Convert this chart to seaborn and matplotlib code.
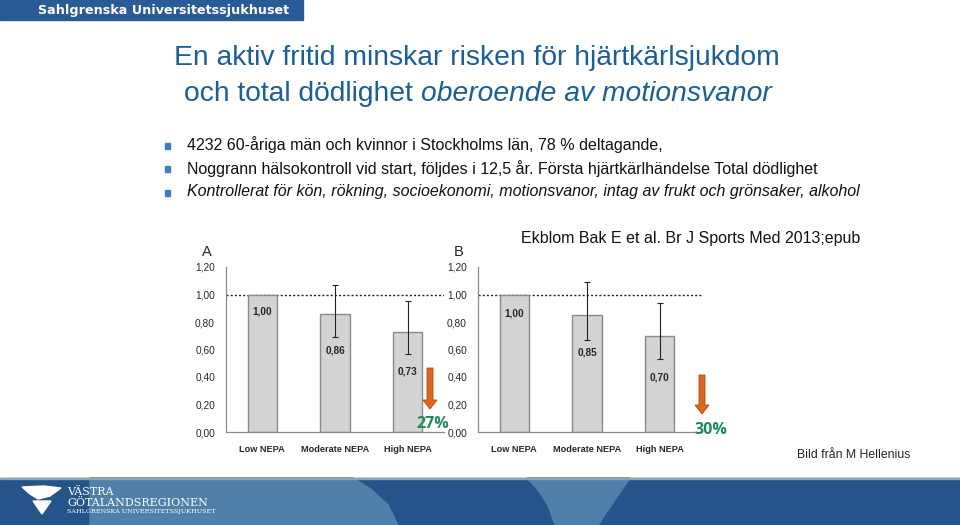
import numpy as np
import pandas as pd
import matplotlib
matplotlib.use('Agg')
import matplotlib.pyplot as plt
import seaborn as sns
from matplotlib.patches import Rectangle, Polygon, FancyArrow

# ---- data ----
groups = ['Low NEPA', 'Moderate NEPA', 'High NEPA']
hr_a = [1.00, 0.86, 0.73]
ci_lo_a = [np.nan, 0.69, 0.57]
ci_hi_a = [np.nan, 1.07, 0.95]
hr_b = [1.00, 0.85, 0.70]
ci_lo_b = [np.nan, 0.67, 0.53]
ci_hi_b = [np.nan, 1.09, 0.94]
yticks = [0.0, 0.2, 0.4, 0.6, 0.8, 1.0, 1.2]

# where the value labels sit inside the bars (layout only)
label_y_a = [0.88, 0.59, 0.44]
label_y_b = [0.86, 0.58, 0.40]

sns.set_style("white")
plt.rcParams['font.family'] = ['Liberation Sans', 'DejaVu Sans']

W, H = 960, 525
fig = plt.figure(figsize=(9.6, 5.25), dpi=100)


def fx(x):
    return x / W


def fy(y):
    return 1 - y / H


DARK = '#24548a'
LIGHT = '#4f80aa'
TITLE_BLUE = '#1a5e9a'
ORANGE = '#e0661c'
GREEN = '#1f8a5b'
narrow = ['Liberation Sans Narrow', 'Liberation Sans', 'DejaVu Sans']

# ---- top banner ----
fig.add_artist(Rectangle((0, fy(20)), fx(303), 20 / H, transform=fig.transFigure,
                         color='#2b5b97', zorder=0))
fig.text(fx(164), fy(10.5), 'Sahlgrenska Universitetssjukhuset', color='white',
         fontsize=9.2, fontweight='bold', ha='center', va='center',
         family=['DejaVu Sans'])

# ---- bottom band ----
fig.add_artist(Rectangle((0, 0), 1, 47 / H, transform=fig.transFigure,
                         color=DARK, zorder=0))
light1 = [(90, 478), (353, 478), (372, 490), (388, 505), (398, 525), (90, 525)]
light2 = [(527, 478), (630, 478), (598, 525), (555, 525), (548, 505), (538, 490)]
for pts in (light1, light2):
    fig.add_artist(Polygon([(fx(a), fy(b)) for a, b in pts], closed=True,
                           transform=fig.transFigure, color=LIGHT, zorder=0))
fig.add_artist(Rectangle((0, fy(479)), 1, 1.5 / H, transform=fig.transFigure,
                         color='#8fa3b8', zorder=0))

# logo
wing = [(22, 487), (44, 486), (61, 488), (50, 496), (38, 499), (30, 494)]
tri = [(33, 501), (51, 501), (42, 514)]
for pts in (wing, tri):
    fig.add_artist(Polygon([(fx(a), fy(b)) for a, b in pts], closed=True,
                           transform=fig.transFigure, color='white', zorder=1))
fig.text(fx(67), fy(492), 'VÄSTRA', color='white', fontsize=8, family='DejaVu Serif',
         va='center')
fig.text(fx(67), fy(503), 'GÖTALANDSREGIONEN', color='white', fontsize=8,
         family='DejaVu Serif', va='center')
fig.text(fx(67), fy(512), 'SAHLGRENSKA UNIVERSITETSSJUKHUSET', color='white',
         fontsize=4.6, family='DejaVu Serif', va='center')

# ---- title ----
TS = 20.3
fig.text(fx(477), fy(58), 'En aktiv fritid minskar risken för hjärtkärlsjukdom',
         color=TITLE_BLUE, fontsize=TS, ha='center', va='center')
t1 = fig.text(0, fy(94), 'och total dödlighet ', color=TITLE_BLUE,
              fontsize=TS, ha='left', va='center')
t2 = fig.text(0, fy(94), 'oberoende av motionsvanor', color=TITLE_BLUE,
              fontsize=TS, ha='left', va='center', style='italic')
fig.canvas.draw()
w1 = t1.get_window_extent().width
w2 = t2.get_window_extent().width
x0 = 478 - (w1 + w2) / 2
t1.set_x(fx(x0))
t2.set_x(fx(x0 + w1))

# ---- bullets ----
bullets = [
    ('4232 60-åriga män och kvinnor i Stockholms län, 78 % deltagande,', 'normal'),
    ('Noggrann hälsokontroll vid start, följdes i 12,5 år. Första hjärtkärlhändelse Total dödlighet', 'normal'),
    ('Kontrollerat för kön, rökning, socioekonomi, motionsvanor, intag av frukt och grönsaker, alkohol', 'italic'),
]
for i, (txt, st) in enumerate(bullets):
    y = 145 + i * 23.5
    fig.add_artist(Rectangle((fx(165), fy(y + 3.5)), 5 / W, 6 / H,
                             transform=fig.transFigure, color='#3b7fc0'))
    fig.text(fx(187), fy(y), txt, fontsize=11.5, ha='left', va='center', style=st,
             color='#111111')
fig.text(fx(860), fy(238), 'Ekblom Bak E et al. Br J Sports Med 2013;epub',
         fontsize=11.5, ha='right', va='center', color='#111111')
fig.text(fx(910), fy(455), 'Bild från M Hellenius', fontsize=8.8, ha='right',
         va='center')


# ---- charts ----
def draw_panel(left, right, hr, lo, hi, label_y, letter, arrow_x, arrow_top,
               arrow_bot, pct_x, pct_y):
    ax = fig.add_axes([fx(left), fy(432), fx(right - left), (432 - 267) / H])
    df = pd.DataFrame({'group': groups, 'hr': hr})
    sns.barplot(data=df, x='group', y='hr', ax=ax, color='#d3d3d3',
                edgecolor='#8a8a8a', linewidth=1.0, width=0.4, saturation=1)
    x = np.arange(len(groups))
    hr_arr = np.array(hr)
    err = np.vstack([hr_arr - np.array(lo), np.array(hi) - hr_arr])
    ax.errorbar(x, hr_arr, yerr=err, fmt='none', ecolor='#222222',
                elinewidth=0.8, capsize=2, capthick=0.8)
    ax.axhline(1.0, color='#222222', linestyle=(0, (1.5, 1.5)), linewidth=1.0,
               zorder=0)
    for xi, v, ly in zip(x, hr, label_y):
        ax.text(xi, ly, f'{v:.2f}'.replace('.', ','), ha='center', va='center',
                fontsize=7.2, fontweight='bold', family=narrow)
    ax.set_ylim(0, 1.2)
    ax.set_xlim(-0.5, 2.5 + (right - left - 218) / 73.0)
    ax.set_yticks(yticks)
    ax.set_yticklabels([f'{t:.2f}'.replace('.', ',') for t in yticks],
                       fontsize=7.3, family=narrow)
    ax.set_xticks(x)
    ax.set_xticklabels(groups, fontsize=6.6, fontweight='bold', family=narrow)
    ax.set_xticks([0.5, 1.5], minor=True)
    ax.tick_params(axis='x', which='major', length=0, pad=9)
    ax.tick_params(axis='x', which='minor', length=4, color='#8a8a8a',
                   direction='out')
    ax.tick_params(axis='y', length=3, color='#8a8a8a', direction='out', pad=5)
    ax.set_xlabel('')
    ax.set_ylabel('')
    sns.despine(ax=ax)
    for s in ('left', 'bottom'):
        ax.spines[s].set_color('#8a8a8a')
        ax.spines[s].set_linewidth(0.9)
    ax.patch.set_alpha(0)
    fig.text(fx(left - 24), fy(252), letter, fontsize=10.5, ha='left',
             va='center', family=narrow)
    # reduction arrow and percent
    fig.add_artist(FancyArrow(fx(arrow_x), fy(arrow_top), 0,
                              -(arrow_bot - arrow_top) / H, width=6 / W,
                              head_width=14 / W, head_length=9 / H,
                              length_includes_head=True,
                              transform=fig.transFigure, facecolor=ORANGE,
                              edgecolor='#b04a10', linewidth=0.6))
    pct = round((1 - hr[-1]) * 100)
    fig.text(fx(pct_x), fy(pct_y), f'{pct}%', color=GREEN, fontsize=11.5,
             fontweight='bold', ha='center', va='center', family=['Open Sans', 'DejaVu Sans'])
    return ax


draw_panel(226, 444, hr_a, ci_lo_a, ci_hi_a, label_y_a, 'A', 430, 368, 409,
           433, 424)
draw_panel(478, 702, hr_b, ci_lo_b, ci_hi_b, label_y_b, 'B', 702, 375, 414,
           711, 430)

fig.savefig('out.png', dpi=100)
